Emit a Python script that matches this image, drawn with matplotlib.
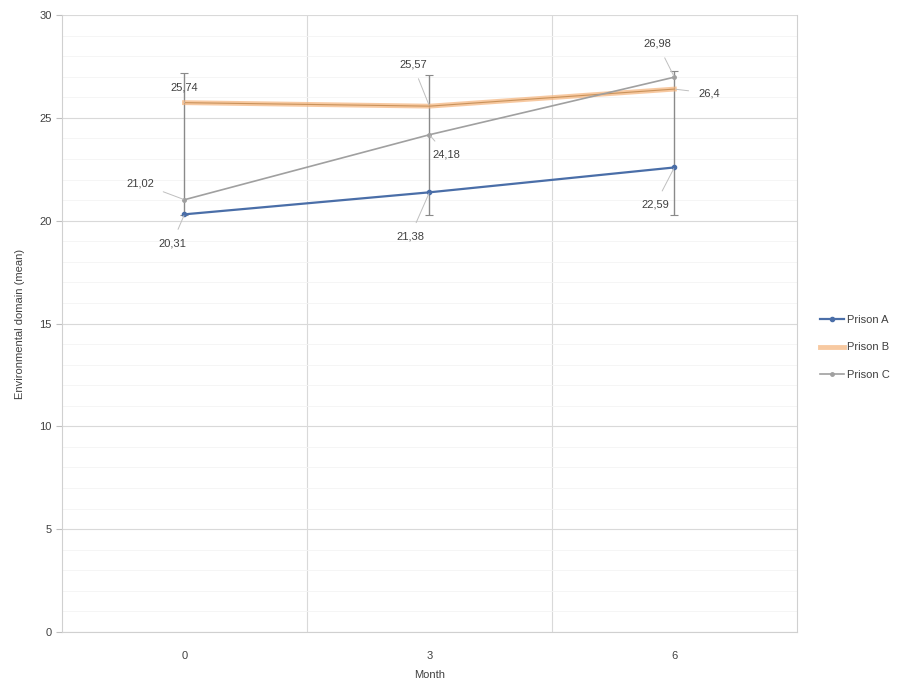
import numpy as np
import matplotlib.pyplot as plt

months = ["0", "3", "6"]
prison_a = [20.31, 21.38, 22.59]
prison_b = [25.74, 25.57, 26.4]
prison_c = [21.02, 24.18, 26.98]
bar_low = [20.3, 20.3, 20.3]
bar_high = [27.2, 27.1, 27.3]

plt.rcParams['font.family'] = ['Liberation Sans', 'DejaVu Sans']

fig = plt.figure(figsize=(9.05, 6.84), dpi=100)
ax = fig.add_axes([0.0685, 0.076, 0.812, 0.902])

x = np.arange(len(months))

# error bars drawn first, behind the lines
b = np.array(prison_b)
yerr = [b - np.array(bar_low), np.array(bar_high) - b]
ax.errorbar(x, b, yerr=yerr, fmt="none", ecolor="#8a8a8a", elinewidth=1.0,
            capsize=3, capthick=0.8, zorder=2)

ax.plot(x, prison_a, "-o", color="#4a6ea8", lw=1.6, ms=3, label="Prison A", zorder=4)
ax.plot(x, prison_b, "-", color="#f5b37a", lw=3.5, alpha=0.7, label="Prison B", zorder=3)
ax.plot(x, prison_b, "-", color="#c9925a", lw=0.8, zorder=3)
ax.plot(x, prison_c, "-o", color="#a0a0a0", lw=1.2, ms=2.5, label="Prison C", zorder=4)

# data labels (offsets in points)
def fmt(v):
    return ("%g" % v).replace(".", ",")

labels = [
    (prison_a, [(-9, -21), (-14, -32), (-14, -27)]),
    (prison_b, [(0, 11), (-12, 30), (25, -3)]),
    (prison_c, [(-32, 12), (12, -14), (-12, 24)]),
]
for vals, offs in labels:
    for xi, v, (dx, dy) in zip(x, vals, offs):
        ax.annotate(fmt(v), (xi, v), xytext=(dx, dy), textcoords="offset points",
                    ha="center", va="center", fontsize=8, color="#404040",
                    arrowprops=dict(arrowstyle="-", color="#bfbfbf", lw=0.7,
                                    shrinkA=5, shrinkB=1), zorder=5)

ax.set_xlim(-0.5, 2.5)
ax.set_ylim(0, 30)
ax.set_yticks(np.arange(0, 31, 5))
ax.set_yticks(np.arange(0, 31, 1), minor=True)
ax.set_xticks(x)
ax.set_xticklabels(months)
ax.set_xticks([0.5, 1.5], minor=True)

ax.grid(which="major", axis="y", color="#d9d9d9", lw=0.8)
ax.grid(which="minor", axis="y", color="#f4f4f4", lw=0.6)
ax.grid(which="minor", axis="x", color="#d9d9d9", lw=0.8)
ax.set_axisbelow(True)

for s in ax.spines.values():
    s.set_color("#d0d0d0")
ax.spines["top"].set_visible(False)

ax.tick_params(axis="both", which="major", labelsize=8, colors="#bfbfbf",
               labelcolor="#404040", length=4)
ax.tick_params(axis="y", which="minor", length=0)
ax.tick_params(axis="x", which="minor", length=0)
ax.tick_params(axis="x", which="major", length=0, pad=14)

ax.set_xlabel("Month", fontsize=8, color="#404040", labelpad=6)
ax.set_ylabel("Environmental domain (mean)", fontsize=8, color="#404040", labelpad=10)

handles, names = ax.get_legend_handles_labels()
fig.legend(handles, names, loc="center left", bbox_to_anchor=(0.895, 0.492),
           frameon=False, fontsize=8, handlelength=2.2, handletextpad=0.2,
           labelspacing=1.6, labelcolor="#404040")

fig.savefig("out.png", dpi=100)
